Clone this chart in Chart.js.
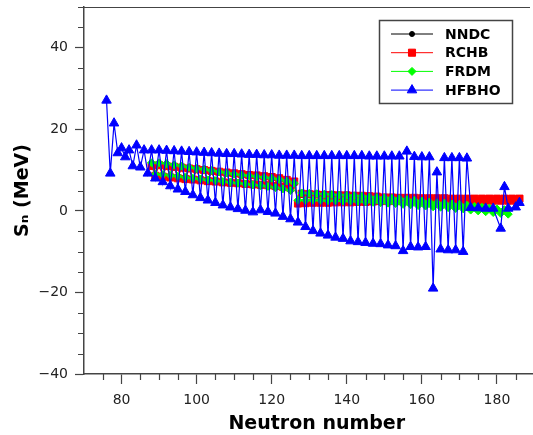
<!DOCTYPE html>
<html>
<head>
<meta charset="UTF-8">
<style>
    html, body { margin: 0; padding: 0; overflow: hidden; background: #fff; }
</style>
</head>
<body>
<canvas id="myChart" width="556" height="435"></canvas>

<script src="https://cdn.jsdelivr.net/npm/chart.js"></script>

<script>
    // neutron separation energies
    const nndcN = [
         88, 89, 90, 91, 92, 93, 94, 95, 96, 97,
         98, 99,100,101,102,103,104,105,106,107,
        108,109,110,111,112,113,114,115,116,117,
        118,119,120,121,122,123,124,125,126,127,
        128,129,130];
    const nndcSn = [
        11.5, 8.9,11.6, 8.7,11.3, 8.5,11.0, 8.3,10.8, 8.0,
        10.5, 7.8,10.2, 7.6,10.0, 7.4, 9.7, 7.2, 9.4, 7.0,
         9.2, 6.8, 9.0, 6.6, 8.7, 6.4, 8.5, 6.2, 8.3, 6.1,
         8.1, 5.9, 7.9, 5.6, 7.6, 5.3, 7.2, 4.9, 6.6, 2.4,
         3.9, 2.5, 3.8];

    const rchbN = [
         88, 89, 90, 91, 92, 93, 94, 95, 96, 97,
         98, 99,100,101,102,103,104,105,106,107,
        108,109,110,111,112,113,114,115,116,117,
        118,119,120,121,122,123,124,125,126,127,
        128,129,130,131,132,133,134,135,136,137,
        138,139,140,141,142,143,144,145,146,147,
        148,149,150,151,152,153,154,155,156,157,
        158,159,160,161,162,163,164,165,166,167,
        168,169,170,171,172,173,174,175,176,177,
        178,179,180,181,182,183,184,185,186];
    const rchbSn = [
        11.0, 8.6,11.2, 8.4,11.0, 8.2,10.8, 8.0,10.6, 7.8,
        10.4, 7.7,10.2, 7.5,10.0, 7.3, 9.8, 7.2, 9.6, 7.0,
         9.4, 6.9, 9.2, 6.8, 9.0, 6.6, 8.8, 6.5, 8.7, 6.4,
         8.5, 6.3, 8.3, 6.1, 8.0, 5.9, 7.6, 5.6, 7.2, 1.8,
         4.2, 1.9, 4.1, 2.0, 4.0, 2.0, 3.9, 2.0, 3.9, 2.1,
         3.8, 2.1, 3.8, 2.1, 3.7, 2.2, 3.7, 2.2, 3.6, 2.3,
         3.5, 2.4, 3.3, 2.4, 3.3, 2.4, 3.2, 2.4, 3.2, 2.4,
         3.2, 2.4, 3.1, 2.4, 3.1, 2.4, 3.1, 2.5, 3.1, 2.5,
         3.0, 2.5, 3.0, 2.5, 3.0, 2.5, 3.0, 2.5, 3.0, 2.5,
         3.0, 2.5, 3.0, 2.5, 3.0, 2.5, 3.0, 2.5, 3.0];

    const frdmN = [
         88, 89, 90, 91, 92, 93, 94, 95, 96, 97,
         98, 99,100,101,102,103,104,105,106,107,
        108,109,110,111,112,113,114,115,116,117,
        118,119,120,121,122,123,124,125,126,127,
        128,129,130,131,132,133,134,135,136,137,
        138,139,140,141,142,143,144,145,146,147,
        148,149,150,151,152,153,154,155,156,157,
        158,159,160,161,162,163,164,165,166,167,
        168,169,170,171,172,173,174,175,176,177,
        178,179,180,181,182,183];
    const frdmSn = [
        11.8, 9.0,11.8, 8.9,11.6, 8.7,11.3, 8.5,11.0, 8.2,
        10.7, 8.0,10.4, 7.8,10.2, 7.6, 9.9, 7.4, 9.6, 7.2,
         9.3, 7.0, 9.0, 6.8, 8.8, 6.6, 8.6, 6.4, 8.4, 6.2,
         8.2, 6.0, 8.0, 5.7, 7.7, 5.4, 7.3, 5.0, 6.8, 2.6,
         4.4, 2.6, 4.3, 2.6, 4.2, 2.6, 4.1, 2.5, 4.0, 2.5,
         3.9, 2.4, 3.8, 2.4, 3.7, 2.3, 3.6, 2.2, 3.4, 2.1,
         3.3, 2.0, 3.2, 1.9, 3.1, 1.8, 3.0, 1.6, 2.8, 1.5,
         2.6, 1.3, 2.4, 1.2, 2.2, 1.0, 2.0, 0.9, 1.9, 0.8,
         1.7, 0.6, 1.6, 0.5, 1.4, 0.2, 1.1, 0.0, 0.9,-0.2,
         0.7,-0.4, 0.5,-0.6, 0.3,-0.8];

    const hfbhoN = [
         76, 77, 78, 79, 80, 81, 82, 83, 84, 85,
         86, 87, 88, 89, 90, 91, 92, 93, 94, 95,
         96, 97, 98, 99,100,101,102,103,104,105,
        106,107,108,109,110,111,112,113,114,115,
        116,117,118,119,120,121,122,123,124,125,
        126,127,128,129,130,131,132,133,134,135,
        136,137,138,139,140,141,142,143,144,145,
        146,147,148,149,150,151,152,153,154,155,
        156,157,158,159,160,161,162,163,164,165,
        166,167,168,169,170,171,172,173,
        175,177,179,181,182,183,185,186];
    const hfbhoSn = [
        27.1, 9.2,21.5,14.2,15.4,13.2,14.9,11.0,16.1,10.7,
        14.9, 9.2,14.9, 8.0,14.9, 7.1,14.8, 6.1,14.7, 5.3,
        14.6, 4.7,14.5, 3.9,14.4, 3.2,14.3, 2.6,14.2, 2.0,
        14.1, 1.4,14.0, 0.9,14.0, 0.5,13.9, 0.1,13.8,-0.3,
        13.8, 0.2,13.7,-0.2,13.7,-0.6,13.6,-1.4,13.6,-2.0,
        13.6,-2.8,13.5,-3.9,13.5,-4.9,13.5,-5.5,13.5,-6.0,
        13.5,-6.5,13.5,-6.8,13.5,-7.4,13.5,-7.6,13.5,-7.8,
        13.4,-8.0,13.4,-8.1,13.4,-8.4,13.4,-8.6,13.4,-9.8,
        14.6,-8.8,13.3,-8.9,13.2,-8.8,13.2,-19.0,9.5,-9.4,
        13.0,-9.6,13.0,-9.6,13.0,-10.0,12.9, 0.8,
         0.7, 0.6, 0.6,-4.3, 5.9, 0.6, 0.9, 2.0];

    const xTicks = [80, 100, 120, 140, 160, 180];
    const yTicks = [-40, -20, 0, 20, 40];

    const family = 'DejaVu Sans';
    const axisColor = '#444';

    function points(xs, ys) {
        return xs.map((x, i) => ({ x: x, y: ys[i] }));
    }

    function minus(v) {
        return v < 0 ? '\u2212' + Math.abs(v) : String(v);
    }

    function marker(ctx, style, x, y, r, color) {
        ctx.fillStyle = color;
        ctx.strokeStyle = color;
        ctx.lineWidth = 1;
        ctx.beginPath();
        if (style === 'circle') {
            ctx.arc(x, y, r, 0, Math.PI * 2);
        } else if (style === 'rect') {
            const s = Math.SQRT1_2 * r;
            ctx.rect(x - s, y - s, 2 * s, 2 * s);
        } else if (style === 'rectRot') {
            ctx.moveTo(x - r, y); ctx.lineTo(x, y - r);
            ctx.lineTo(x + r, y); ctx.lineTo(x, y + r);
            ctx.closePath();
        } else {
            for (let k = 0; k < 3; k++) {
                const a = k * 2 * Math.PI / 3;
                ctx[k ? 'lineTo' : 'moveTo'](x + Math.sin(a) * r, y - Math.cos(a) * r);
            }
            ctx.closePath();
        }
        ctx.fill();
        ctx.stroke();
    }

    // minor ticks every 5 and the top frame line
    const minorTicks = {
        id: 'minorTicks',
        afterDraw(chart) {
            const { ctx, chartArea: a, scales: { x, y } } = chart;
            ctx.save();
            ctx.strokeStyle = axisColor;
            ctx.lineWidth = 1.2;
            ctx.beginPath();
            for (let v = 75; v <= 190; v += 5) {
                if (v % 20) {
                    const px = Math.round(x.getPixelForValue(v)) + 0.5;
                    ctx.moveTo(px, a.bottom);
                    ctx.lineTo(px, a.bottom + 6);
                }
            }
            for (let v = -35; v <= 50; v += 5) {
                if (v % 20) {
                    const py = Math.round(y.getPixelForValue(v)) + 0.5;
                    ctx.moveTo(a.left, py);
                    ctx.lineTo(a.left - 6, py);
                }
            }
            ctx.moveTo(a.left, a.top + 0.5);
            ctx.lineTo(530, a.top + 0.5);
            ctx.stroke();
            ctx.restore();
        }
    };

    // boxed legend inside the plot, top right
    const boxLegend = {
        id: 'boxLegend',
        afterDatasetsDraw(chart) {
            const ctx = chart.ctx;
            ctx.save();
            ctx.fillStyle = '#fff';
            ctx.fillRect(379, 20, 134, 84);
            ctx.strokeStyle = axisColor;
            ctx.lineWidth = 1.5;
            ctx.strokeRect(379.5, 20.5, 133, 83);
            chart.data.datasets.forEach((ds, i) => {
                const y = 34 + i * 18.7;
                ctx.strokeStyle = ds.borderColor;
                ctx.lineWidth = 1;
                ctx.beginPath();
                ctx.moveTo(391, y);
                ctx.lineTo(433, y);
                ctx.stroke();
                marker(ctx, ds.pointStyle, 412, y, ds.pointRadius, ds.pointBackgroundColor);
                ctx.fillStyle = '#000';
                ctx.font = 'bold 14px "' + family + '"';
                ctx.textBaseline = 'middle';
                ctx.fillText(ds.label, 445, y + 1);
            });
            ctx.restore();
        }
    };

    function series(label, xs, ys, color, style, radius, order, width) {
        return {
            label: label,
            data: points(xs, ys),
            borderColor: color,
            borderWidth: width,
            pointStyle: style,
            pointRadius: radius,
            pointBackgroundColor: color,
            pointBorderColor: color,
            pointBorderWidth: 1,
            tension: 0,
            fill: false,
            order: order
        };
    }

    new Chart(document.getElementById('myChart'), {
        type: 'line',
        data: {
            datasets: [
                series('NNDC', nndcN, nndcSn, '#000000', 'circle', 2.5, 4, 1),
                series('RCHB', rchbN, rchbSn, '#ff0000', 'rect', 5, 3, 1),
                series('FRDM', frdmN, frdmSn, '#00ff00', 'rectRot', 4, 2, 1),
                series('HFBHO', hfbhoN, hfbhoSn, '#0000ff', 'triangle', 5.5, 1, 1.2)
            ]
        },
        options: {
            responsive: false,
            animation: false,
            layout: { padding: { top: 7, right: 4, left: 0, bottom: 0 } },
            plugins: {
                legend: { display: false },
                tooltip: { enabled: false }
            },
            scales: {
                x: {
                    type: 'linear',
                    min: 70,
                    max: 194,
                    afterBuildTicks: s => { s.ticks = xTicks.map(v => ({ value: v })); },
                    afterFit: s => { s.height = 61; s.paddingLeft = 0; s.paddingRight = 0; },
                    grid: { drawOnChartArea: false, tickLength: 10, tickColor: axisColor, tickWidth: 1.2 },
                    border: { color: axisColor, width: 1.5 },
                    ticks: {
                        font: { family: family, size: 14 },
                        color: '#222',
                        padding: 8,
                        maxRotation: 0,
                        autoSkip: false,
                        callback: v => minus(v)
                    },
                    title: {
                        display: true,
                        text: 'Neutron number',
                        color: '#000',
                        font: { family: family, size: 19, weight: 'bold' },
                        padding: { top: 0, bottom: 0 }
                    }
                },
                y: {
                    min: -40,
                    max: 50,
                    afterBuildTicks: s => { s.ticks = yTicks.map(v => ({ value: v })); },
                    afterFit: s => { s.width = 84; s.paddingTop = 0; s.paddingBottom = 0; },
                    grid: { drawOnChartArea: false, tickLength: 9, tickColor: axisColor, tickWidth: 1.2 },
                    border: { color: axisColor, width: 1.5 },
                    ticks: {
                        font: { family: family, size: 14 },
                        color: '#222',
                        padding: 7,
                        autoSkip: false,
                        callback: v => minus(v)
                    },
                    title: {
                        display: true,
                        text: 'S\u2099 (MeV)',
                        color: '#000',
                        font: { family: family, size: 19, weight: 'bold' },
                        padding: { top: 12, bottom: 12 }
                    }
                }
            }
        },
        plugins: [minorTicks, boxLegend]
    });
</script>
</body>
</html>
